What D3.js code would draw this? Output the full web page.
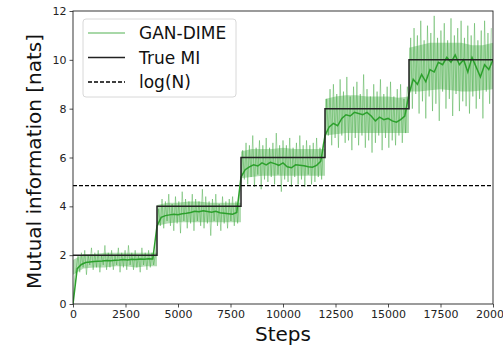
<!DOCTYPE html>
<html>
<head>
<meta charset="utf-8">
<script src="https://cdn.jsdelivr.net/npm/d3@7"></script>
<style>
  body { margin: 0; background: #fff; }
  svg { display: block; font-family: "DejaVu Sans", sans-serif; }
</style>
</head>
<body>
<div id="chart"></div>
<script>
// x / y ticks
const xTicks = [0, 2500, 5000, 7500, 10000, 12500, 15000, 17500, 20000];
const yTicks = [0, 2, 4, 6, 8, 10, 12];

// true MI staircase (value holds until next step)
const trueSteps = [0, 4000, 8000, 12000, 16000, 20000];
const trueMI = [2, 4, 6, 8, 10, 10];

// log(N) reference
const logN = 4.85;

// raw GAN-DIME estimates, one array per MI level, sampled every 80 steps
const rawStep = 80;
const raw1 = [0.1, 1.1, 1.5, 2.0, 1.3, 2.1, 1.5, 2.2, 1.2, 2.0, 1.6, 2.3, 1.4, 2.1, 1.5, 2.2, 1.3, 2.0, 1.6, 2.4, 1.4, 2.1, 1.5, 2.2, 1.4, 2.0, 1.6, 2.3, 1.3, 2.1, 1.5, 2.2, 1.4, 2.4, 1.6, 2.1, 1.4, 2.2, 1.5, 2.0, 1.3, 2.3, 1.6, 2.1, 1.4, 2.2, 1.5, 2.1, 1.6, 2.0];
const raw2 = [3.0, 3.9, 3.2, 4.3, 3.1, 4.2, 3.4, 4.5, 3.2, 4.1, 3.0, 4.4, 3.3, 4.2, 2.9, 4.6, 3.4, 4.3, 3.1, 4.2, 3.3, 4.5, 3.0, 4.3, 3.4, 4.2, 3.2, 4.7, 3.1, 4.4, 3.3, 4.2, 2.8, 4.3, 3.4, 4.5, 3.2, 4.1, 3.0, 4.4, 3.3, 4.2, 3.1, 4.3, 3.4, 4.4, 3.2, 4.2, 3.3, 4.4];
const raw3 = [5.0, 6.3, 5.1, 6.6, 4.9, 6.5, 5.2, 6.9, 4.8, 6.4, 5.3, 6.7, 4.7, 6.5, 5.1, 6.8, 5.0, 6.4, 5.2, 6.6, 4.9, 7.0, 5.3, 6.5, 4.6, 6.7, 5.1, 6.5, 5.0, 6.8, 4.8, 6.4, 5.2, 6.6, 4.9, 6.9, 5.1, 6.5, 4.8, 6.7, 5.3, 6.5, 4.9, 6.6, 5.0, 6.8, 5.2, 6.4, 5.1, 6.6];
const raw4 = [6.6, 8.4, 6.9, 8.8, 6.5, 9.0, 6.8, 8.6, 6.4, 9.2, 6.9, 8.7, 6.6, 9.3, 6.7, 8.5, 6.3, 8.9, 6.8, 9.1, 6.5, 8.6, 6.9, 9.4, 6.4, 8.8, 6.7, 8.5, 6.2, 9.0, 6.6, 8.7, 6.9, 9.2, 6.3, 8.6, 6.8, 8.9, 6.4, 9.1, 6.7, 8.5, 6.5, 8.8, 6.9, 9.0, 6.6, 8.4, 7.0, 8.9];
const raw5 = [8.4, 10.9, 8.0, 11.3, 8.6, 11.0, 7.8, 11.6, 8.3, 10.8, 7.6, 11.4, 8.5, 11.1, 7.9, 11.8, 8.2, 10.9, 7.5, 11.2, 8.7, 11.5, 8.0, 10.8, 8.4, 11.7, 7.7, 11.0, 8.6, 11.3, 7.9, 11.6, 8.3, 10.9, 8.1, 11.4, 7.8, 11.0, 8.5, 11.5, 8.0, 10.8, 8.4, 11.2, 7.6, 11.6, 8.7, 11.1, 8.2, 11.3];

// dense core of the raw estimates (low / high edge), every 500 steps
const bandStep = 500;
const bandLow = [
  [1.2, 1.45, 1.5, 1.5, 1.55, 1.55, 1.5, 1.55, 1.55],
  [3.2, 3.3, 3.35, 3.35, 3.35, 3.35, 3.35, 3.35, 3.35],
  [5.15, 5.2, 5.25, 5.25, 5.25, 5.25, 5.25, 5.25, 5.25],
  [6.9, 6.95, 7.0, 7.0, 7.0, 7.0, 7.0, 7.0, 7.0],
  [8.7, 8.7, 8.75, 8.8, 8.75, 8.7, 8.7, 8.75, 8.8]
];
const bandHigh = [
  [1.8, 2.05, 2.05, 2.1, 2.1, 2.1, 2.1, 2.1, 2.1],
  [4.05, 4.15, 4.15, 4.2, 4.2, 4.15, 4.15, 4.15, 4.15],
  [6.25, 6.35, 6.35, 6.35, 6.4, 6.35, 6.35, 6.35, 6.35],
  [8.4, 8.5, 8.55, 8.55, 8.5, 8.5, 8.5, 8.45, 8.5],
  [10.5, 10.6, 10.7, 10.7, 10.7, 10.7, 10.6, 10.6, 10.7]
];

// smoothed GAN-DIME, every 200 steps
const smoothStep = 200;
const smooth1 = [0.0, 1.45, 1.62, 1.7, 1.72, 1.74, 1.75, 1.76, 1.78, 1.77, 1.79, 1.8, 1.82, 1.8, 1.83, 1.82, 1.84, 1.83, 1.85, 1.84];
const smooth2 = [3.2, 3.55, 3.62, 3.65, 3.68, 3.66, 3.7, 3.72, 3.75, 3.8, 3.78, 3.82, 3.79, 3.76, 3.8, 3.74, 3.72, 3.7, 3.68, 3.75];
const smooth3 = [5.2, 5.5, 5.62, 5.7, 5.65, 5.78, 5.7, 5.8, 5.75, 5.68, 5.78, 5.62, 5.58, 5.7, 5.68, 5.66, 5.62, 5.6, 5.68, 5.85];
const smooth4 = [6.9, 7.25, 7.4, 7.3, 7.6, 7.75, 7.7, 7.85, 7.8, 7.75, 7.85, 7.7, 7.5, 7.65, 7.55, 7.6, 7.5, 7.45, 7.55, 7.7];
const smooth5 = [8.6, 9.2, 9.0, 9.4, 9.1, 9.6, 9.5, 9.9, 9.8, 10.1, 9.9, 10.2, 9.8, 10.0, 9.5, 10.1, 9.7, 9.3, 9.8, 9.6, 10.0];

const segStart = [0, 4000, 8000, 12000, 16000];

// build {step, value} points
const rawData = [raw1, raw2, raw3, raw4, raw5]
  .flatMap((seg, s) => seg.map((v, i) => ({ step: segStart[s] + i * rawStep, value: v })));
const smoothData = [smooth1, smooth2, smooth3, smooth4, smooth5]
  .flatMap((seg, s) => seg.map((v, i) => ({ step: segStart[s] + i * smoothStep, value: v })));
const trueData = trueSteps.map((s, i) => ({ step: s, value: trueMI[i] }));
const bandData = bandLow.map((seg, s) =>
  seg.map((lo, i) => ({ step: segStart[s] + i * bandStep, lo: lo, hi: bandHigh[s][i] })));

// dimensions
const W = 503, H = 346;
const margin = { top: 11, right: 10, bottom: 42, left: 73 };
const width = W - margin.left - margin.right;
const height = H - margin.top - margin.bottom;

const x = d3.scaleLinear().domain([0, 20000]).range([0, width]);
const y = d3.scaleLinear().domain([0, 12]).range([height, 0]);

const svg = d3.select('#chart')
  .append('svg')
  .attr('width', W)
  .attr('height', H);

const g = svg.append('g')
  .attr('transform', `translate(${margin.left},${margin.top})`);

// clip to axes
g.append('defs').append('clipPath')
  .attr('id', 'plotClip')
  .append('rect')
  .attr('width', width)
  .attr('height', height);

const plot = g.append('g').attr('clip-path', 'url(#plotClip)');

const line = d3.line()
  .x(d => x(d.step))
  .y(d => y(d.value));

// core band of raw estimates
plot.selectAll('path.band')
  .data(bandData)
  .enter()
  .append('path')
  .attr('class', 'band')
  .attr('fill', '#2ca02c')
  .attr('fill-opacity', 0.36)
  .attr('d', d3.area()
    .x(d => x(d.step))
    .y0(d => y(d.lo))
    .y1(d => y(d.hi)));

// raw estimates
plot.append('path')
  .datum(rawData)
  .attr('fill', 'none')
  .attr('stroke', '#2ca02c')
  .attr('stroke-opacity', 0.4)
  .attr('stroke-width', 1)
  .attr('d', line);

// smoothed
plot.append('path')
  .datum(smoothData)
  .attr('fill', 'none')
  .attr('stroke', '#2ca02c')
  .attr('stroke-width', 1.5)
  .attr('d', line);

// true MI staircase
plot.append('path')
  .datum(trueData)
  .attr('fill', 'none')
  .attr('stroke', '#222')
  .attr('stroke-width', 1.5)
  .attr('d', d3.line().x(d => x(d.step)).y(d => y(d.value)).curve(d3.curveStepAfter));

// log(N)
plot.append('line')
  .attr('x1', 0)
  .attr('x2', width)
  .attr('y1', y(logN))
  .attr('y2', y(logN))
  .attr('stroke', '#000')
  .attr('stroke-width', 1.1)
  .attr('stroke-dasharray', '4,2');

// axes
const xAxis = g.append('g')
  .attr('transform', `translate(0,${height})`)
  .call(d3.axisBottom(x).tickValues(xTicks).tickFormat(d3.format('d'))
    .tickSize(3.5).tickPadding(3).tickSizeOuter(0));

const yAxis = g.append('g')
  .call(d3.axisLeft(y).tickValues(yTicks).tickFormat(d3.format('d'))
    .tickSize(3.5).tickPadding(3).tickSizeOuter(0));

[xAxis, yAxis].forEach(a => {
  a.selectAll('text')
    .style('font-family', '"DejaVu Sans", sans-serif')
    .style('font-size', '11px')
    .attr('fill', '#222');
  a.selectAll('line').attr('stroke', '#222').attr('stroke-width', 0.8);
  a.select('.domain').remove();
});

// frame
g.append('rect')
  .attr('width', width)
  .attr('height', height)
  .attr('fill', 'none')
  .attr('stroke', '#222')
  .attr('stroke-width', 0.9);

// axis labels
svg.append('text')
  .attr('x', margin.left + width / 2)
  .attr('y', 341)
  .attr('text-anchor', 'middle')
  .style('font-size', '20px')
  .attr('fill', '#111')
  .text('Steps');

svg.append('text')
  .attr('transform', `translate(41,${margin.top + height / 2 + 4}) rotate(-90)`)
  .attr('text-anchor', 'middle')
  .style('font-size', '20px')
  .attr('fill', '#111')
  .text('Mutual information [nats]');

// legend
const legendItems = [
  { label: 'GAN-DIME', color: '#2ca02c', opacity: 0.55, dash: null },
  { label: 'True MI', color: '#222', opacity: 1, dash: null },
  { label: 'log(N)', color: '#000', opacity: 1, dash: '4,2' }
];

const legend = svg.append('g').attr('transform', 'translate(83,19)');

legend.append('rect')
  .attr('width', 153)
  .attr('height', 78)
  .attr('rx', 3)
  .attr('fill', '#fff')
  .attr('fill-opacity', 0.8)
  .attr('stroke', '#d8d8d8')
  .attr('stroke-width', 1);

legendItems.forEach((d, i) => {
  const row = legend.append('g').attr('transform', `translate(0,${14 + i * 24.5})`);
  row.append('line')
    .attr('x1', 5)
    .attr('x2', 42)
    .attr('stroke', d.color)
    .attr('stroke-opacity', d.opacity)
    .attr('stroke-width', 1.5)
    .attr('stroke-dasharray', d.dash);
  row.append('text')
    .attr('x', 56)
    .attr('y', 6)
    .style('font-size', '17px')
    .attr('fill', '#111')
    .text(d.label);
});
</script>
</body>
</html>
